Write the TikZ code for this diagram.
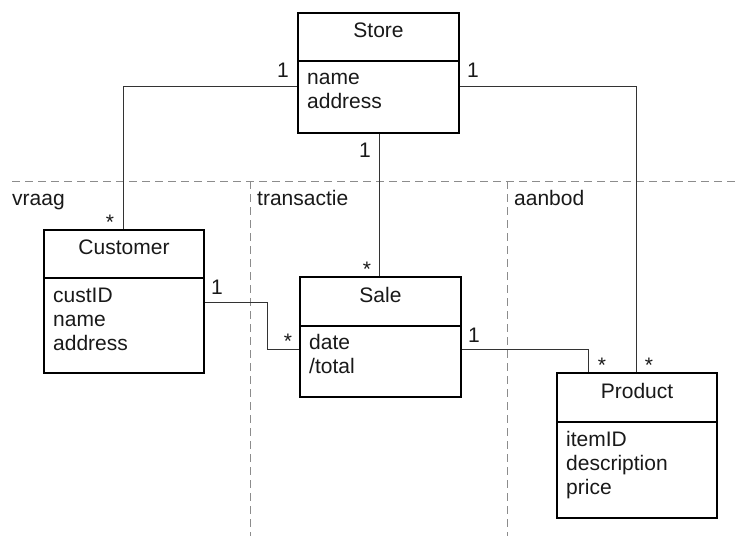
\documentclass[tikz,border=0pt]{standalone}
\usepackage{fontspec}
\setmainfont{Liberation Sans}
\begin{document}
\begin{tikzpicture}[x=1pt,y=-1pt,
  classbox/.style={draw=black,line width=2pt},
  divider/.style={draw=black,line width=1.3pt},
  assoc/.style={draw=black!80,line width=1pt},
  lane/.style={draw=black!45,line width=1pt,dash pattern=on 8pt off 5pt},
  txt/.style={font=\fontsize{21}{23.5}\selectfont,inner sep=0pt,text=black!90},
  mult/.style={txt,anchor=base},
]
\useasboundingbox (0,0) rectangle (738,536);
\fill[white] (0,0) rectangle (738,536);

% swimlane separators
\draw[lane] (12,181) -- (738,181);
\draw[lane] (250.5,181) -- (250.5,536);
\draw[lane] (507,181) -- (507,536);
\node[txt,anchor=base west] (lvraag) at (12,205) {vraag};
\node[txt,anchor=base west] (ltrans) at (257,205) {transactie};
\node[txt,anchor=base west] (laanbod) at (514,205) {aanbod};

% classes
\path[classbox] (298,13) rectangle (459,133);
\draw[divider] (298,61) -- (459,61);
\node[txt,anchor=base] (storeT) at (378.5,37) {Store};
\node[txt,anchor=base west] (storeA1) at (307,84) {name};
\node[txt,anchor=base west] (storeA2) at (307,108) {address};

\path[classbox] (44,230) rectangle (204,373);
\draw[divider] (44,278) -- (204,278);
\node[txt,anchor=base] (custT) at (124,254) {Customer};
\node[txt,anchor=base west] (custA1) at (53,302) {custID};
\node[txt,anchor=base west] (custA2) at (53,326) {name};
\node[txt,anchor=base west] (custA3) at (53,350) {address};

\path[classbox] (300,277) rectangle (461,397);
\draw[divider] (300,326) -- (461,326);
\node[txt,anchor=base] (saleT) at (380.5,302) {Sale};
\node[txt,anchor=base west] (saleA1) at (309,349) {date};
\node[txt,anchor=base west] (saleA2) at (309,373) {/total};

\path[classbox] (557,373) rectangle (717,518);
\draw[divider] (557,422) -- (717,422);
\node[txt,anchor=base] (prodT) at (637,398) {Product};
\node[txt,anchor=base west] (prodA1) at (566,446) {itemID};
\node[txt,anchor=base west] (prodA2) at (566,470) {description};
\node[txt,anchor=base west] (prodA3) at (566,494) {price};

% association end points
\coordinate (sL) at (297,86);
\coordinate (sR) at (460,86);
\coordinate (sB) at (379,134);
\coordinate (cT) at (123,229);
\coordinate (cR) at (205,302);
\coordinate (aT) at (379,276);
\coordinate (aL) at (299,349);
\coordinate (aR) at (462,349);
\coordinate (pT1) at (588,372);
\coordinate (pT2) at (636,372);

% associations
\draw[assoc] (sL) -| (cT);
\draw[assoc] (sR) -| (pT2);
\draw[assoc] (sB) -- (aT);
\draw[assoc] (cR) -- (267,302) |- (aL);
\draw[assoc] (aR) -| (pT1);

% multiplicities
\node[mult] (m1) at (283,77) {1};
\node[mult] (m2) at (110,229) {*};
\node[mult] (m3) at (473,77) {1};
\node[mult] (m4) at (649,372) {*};
\node[mult] (m5) at (365,157) {1};
\node[mult] (m6) at (367,276) {*};
\node[mult] (m7) at (217,294) {1};
\node[mult] (m8) at (288,348) {*};
\node[mult] (m9) at (474,342) {1};
\node[mult] (m10) at (602,372) {*};
\end{tikzpicture}
\end{document}
